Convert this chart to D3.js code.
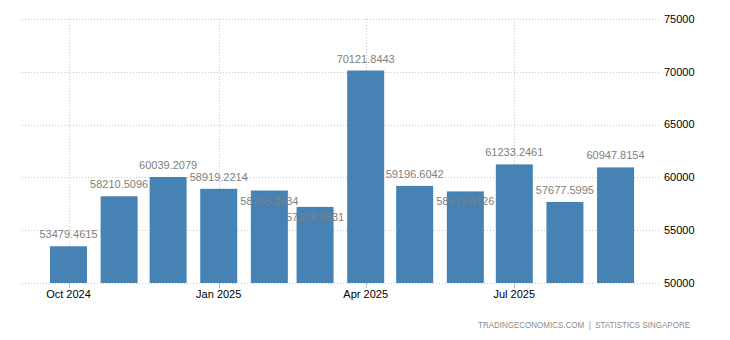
<!DOCTYPE html>
<html>
<head>
<meta charset="utf-8">
<script src="https://cdn.jsdelivr.net/npm/d3@7"></script>
<style>
  html, body { margin: 0; padding: 0; background: #fff; }
  svg { display: block; }
  text { font-family: "Liberation Sans", Arial, sans-serif; }
</style>
</head>
<body>
<svg id="chart" width="730" height="340"></svg>
<script>
// ---- data ----
const months = ["2024-10-01","2024-11-01","2024-12-01","2025-01-01","2025-02-01","2025-03-01",
                "2025-04-01","2025-05-01","2025-06-01","2025-07-01","2025-08-01","2025-09-01"];
const values = [53479.4615, 58210.5096, 60039.2079, 58919.2214, 58755.2634, 57208.3831,
                70121.8443, 59196.6042, 58673.6126, 61233.2461, 57677.5995, 60947.8154];
const xTickDates = ["2024-10-01","2025-01-01","2025-04-01","2025-07-01"];
const xTickLabels = ["Oct 2024","Jan 2025","Apr 2025","Jul 2025"];
const yTicks = [50000, 55000, 60000, 65000, 70000, 75000];
const footerText = "TRADINGECONOMICS.COM  |  STATISTICS SINGAPORE";

// ---- layout ----
const parse = d3.utcParse("%Y-%m-%d");
const svg = d3.select("#chart");
const plotLeft = 22, plotRight = 661, plotTop = 19, plotBottom = 283;
const barWidth = 37;
const barColor = "#4682b4";

const x = d3.scaleUtc()
  .domain([parse("2024-10-01"), parse("2025-07-01")])
  .range([68.5, 514.3]);
const y = d3.scaleLinear()
  .domain([50000, 75000])
  .range([plotBottom, plotTop]);

// horizontal gridlines
svg.append("g").selectAll("line").data(yTicks).join("line")
  .attr("x1", plotLeft).attr("x2", plotRight)
  .attr("y1", d => Math.round(y(d)) + 0.5).attr("y2", d => Math.round(y(d)) + 0.5)
  .attr("stroke", "#c8c8c8").attr("stroke-width", 1).attr("stroke-dasharray", "1,2");

// vertical gridlines
svg.append("g").selectAll("line").data(xTickDates).join("line")
  .attr("x1", d => Math.round(x(parse(d))) + 0.5).attr("x2", d => Math.round(x(parse(d))) + 0.5)
  .attr("y1", plotTop).attr("y2", plotBottom)
  .attr("stroke", "#c8c8c8").attr("stroke-width", 1).attr("stroke-dasharray", "1,2");

// tick marks
svg.append("g").selectAll("line").data(xTickDates).join("line")
  .attr("x1", d => Math.round(x(parse(d))) + 0.5).attr("x2", d => Math.round(x(parse(d))) + 0.5)
  .attr("y1", plotBottom).attr("y2", plotBottom + 5)
  .attr("stroke", "#c0c0c0").attr("stroke-width", 1);

// bars
svg.append("g").selectAll("rect").data(values).join("rect")
  .attr("x", (d, i) => x(parse(months[i])) - barWidth / 2)
  .attr("width", barWidth)
  .attr("y", d => y(d))
  .attr("height", d => y(50000) - y(d))
  .attr("fill", barColor);

// value labels with simple collision handling
const fmt = d3.format(".4f");
const placed = [];
values.forEach((v, i) => {
  let base = y(v) - 8;
  if (i > 0 && Math.abs(base - placed[i - 1]) < 11) base = y(v) + 14;
  placed.push(base);
});
svg.append("g").selectAll("text").data(values).join("text")
  .attr("x", (d, i) => x(parse(months[i])))
  .attr("y", (d, i) => placed[i])
  .attr("text-anchor", "middle")
  .attr("font-size", 11)
  .attr("fill", "#808080")
  .text(d => fmt(d));

// y-axis labels (right)
svg.append("g").selectAll("text").data(yTicks).join("text")
  .attr("x", 664)
  .attr("y", d => y(d))
  .attr("dy", "0.35em")
  .attr("font-size", 11)
  .attr("fill", "#000")
  .text(d => d);

// x-axis labels
svg.append("g").selectAll("text").data(xTickDates).join("text")
  .attr("x", d => x(parse(d)))
  .attr("y", 298)
  .attr("text-anchor", "middle")
  .attr("font-size", 11)
  .attr("fill", "#000")
  .text((d, i) => xTickLabels[i]);

// footer
svg.append("text")
  .attr("x", 478).attr("y", 328)
  .attr("font-size", 8.5)
  .attr("fill", "#8a8a8a")
  .attr("textLength", 212)
  .attr("lengthAdjust", "spacingAndGlyphs")
  .style("white-space", "pre")
  .text(footerText);
</script>
</body>
</html>
